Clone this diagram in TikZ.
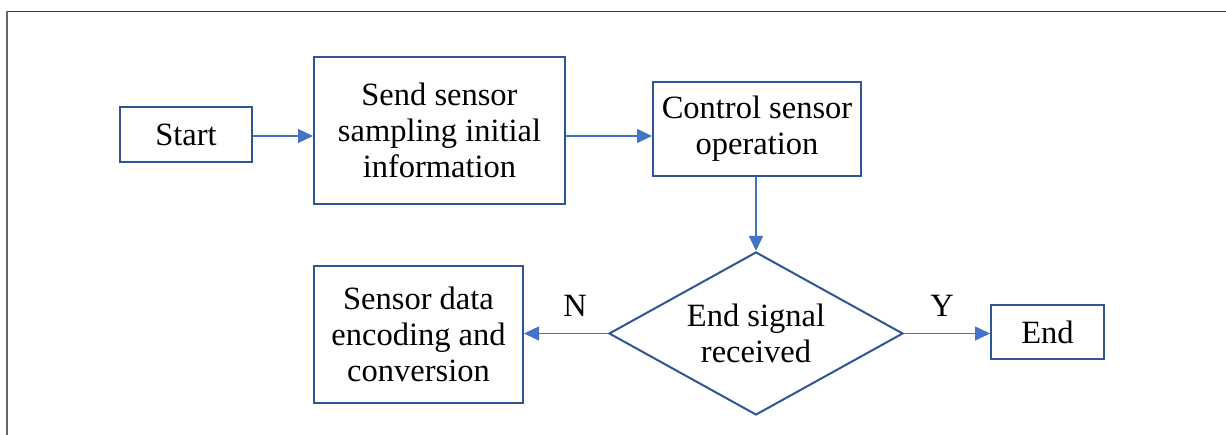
\documentclass[tikz,border=0pt]{standalone}
\usepackage{fontspec}
\setmainfont{Liberation Serif}
\usetikzlibrary{shapes.geometric,arrows.meta,calc}
\definecolor{boxblue}{HTML}{2F5597}
\definecolor{arrowblue}{HTML}{4472C4}
\definecolor{framegray}{HTML}{3A3A3A}
\begin{document}
\begin{tikzpicture}[x=1pt,y=-1pt,
  every node/.style={font=\fontsize{32.5}{36}\selectfont, text=black},
  procbox/.style={draw=boxblue, line width=2pt, rectangle, align=center, inner sep=0pt},
  decbox/.style={draw=boxblue, line width=2pt, diamond, aspect=1.8, align=center, inner sep=0pt,
    minimum width=294pt, minimum height=163pt},
  flow/.style={draw=arrowblue, line width=1.3pt, -{Triangle[length=15pt,width=14pt]}},
  lbl/.style={inner sep=0pt}
]
\useasboundingbox (0,0) rectangle (1226,435);
\fill[white] (0,0) rectangle (1226,435);
% frame
\draw[framegray, line width=1.6pt] (7,11.5) -- (1226,11.5);
\draw[gray!80!black, line width=1.6pt] (7,11.5) -- (7,435);

\node[procbox, minimum width=132pt, minimum height=55pt] (start) at (186,135) {Start};
\node[procbox, minimum width=251pt, minimum height=147pt] (send) at (439.5,130.5) {Send sensor\\sampling initial\\information};
\node[procbox, minimum width=208pt, minimum height=94pt] (ctrl) at (757,129) {Control sensor\\operation};
\node[decbox] (dia) at (756,333.5) {End signal\\received};
\node[procbox, minimum width=209pt, minimum height=137pt] (enc) at (418.5,334.5) {Sensor data\\encoding and\\conversion};
\node[procbox, minimum width=113pt, minimum height=54pt] (end) at (1047.5,332) {End};

\coordinate (a1) at ($(start.east)+(0,1)$);
\draw[flow] (a1) -- (a1 -| send.west);
\draw[flow] (a1 -| send.east) -- (a1 -| ctrl.west);
\draw[flow] (ctrl.south -| dia.north) -- (dia.north);
\draw[flow] (dia.west) -- (dia.west -| enc.east);
\draw[flow] (dia.east) -- (dia.east -| end.west);

\node[lbl] (n) at (575,306) {N};
\node[lbl] (y) at (942,306) {Y};
\end{tikzpicture}
\end{document}
